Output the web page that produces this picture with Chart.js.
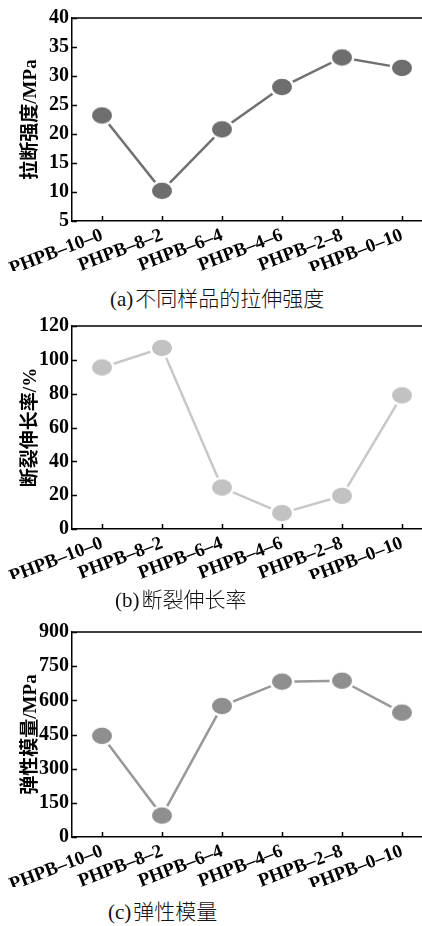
<!DOCTYPE html>
<html lang="zh">
<head>
    <meta charset="UTF-8">
    <title>PHPB 力学性能</title>
    <script src="https://cdn.jsdelivr.net/npm/chart.js"></script>
    <style>
        html, body { margin: 0; padding: 0; background: #fff; width: 422px; height: 926px; overflow: hidden; }
        .panel { position: absolute; left: 0; width: 440px; height: 280px; }
        .caption { position: absolute; font-size: 21px; line-height: 24px; color: #111; white-space: nowrap;
                   font-family: 'Liberation Serif', 'Noto Sans CJK SC', serif; font-weight: normal; }
        .caption span { font-family: 'Noto Sans CJK SC', sans-serif; font-weight: 300; margin-left: 2px; }
    </style>
</head>
<body>

<div class="panel" style="top:0px"><canvas id="chartA" width="440" height="280"></canvas></div>
<div class="caption" style="left:110px; top:285px">(a)<span>不同样品的拉伸强度</span></div>

<div class="panel" style="top:308px"><canvas id="chartB" width="440" height="280"></canvas></div>
<div class="caption" style="left:115px; top:586px">(b)<span>断裂伸长率</span></div>

<div class="panel" style="top:614px"><canvas id="chartC" width="440" height="280"></canvas></div>
<div class="caption" style="left:108px; top:898px">(c)<span>弹性模量</span></div>

<script>
    // sample names
    const categories = ['PHPB–10–0', 'PHPB–8–2', 'PHPB–6–4', 'PHPB–4–6', 'PHPB–2–8', 'PHPB–0–10'];

    // (a) tensile strength, MPa
    const tensileStrength = [23.2, 10.2, 20.8, 28.1, 33.2, 31.4];
    const tensileTicks = { min: 5, max: 40, step: 5 };

    // (b) elongation at break, %
    const elongation = [95.5, 107, 24.5, 9.4, 19.6, 79];
    const elongationTicks = { min: 0, max: 120, step: 20 };

    // (c) elastic modulus, MPa
    const modulus = [444, 94, 575, 682, 686, 546];
    const modulusTicks = { min: 0, max: 900, step: 150 };

    const serifBold = "'Liberation Serif', 'Noto Sans CJK SC', serif";

    // oval marker with a white rim, so the line stops short of it
    function ovalMarker(fill) {
        const c = document.createElement('canvas');
        c.width = 26; c.height = 22;
        const g = c.getContext('2d');
        g.fillStyle = '#fff';
        g.beginPath(); g.ellipse(13, 11, 12.5, 10.5, 0, 0, Math.PI * 2); g.fill();
        g.fillStyle = fill;
        g.beginPath(); g.ellipse(13, 11, 10, 8.2, 0, 0, Math.PI * 2); g.fill();
        return c;
    }

    // top frame line and inward tick marks
    const frame = {
        id: 'frame',
        afterDraw(chart) {
            const { ctx, chartArea: a, scales: { x, y } } = chart;
            ctx.save();
            ctx.strokeStyle = '#000';
            ctx.lineWidth = 1.5;
            ctx.beginPath();
            ctx.moveTo(a.left, a.top);
            ctx.lineTo(a.right, a.top);
            x.ticks.forEach((t, i) => {
                const px = Math.round(x.getPixelForTick(i)) + 0.5;
                ctx.moveTo(px, a.bottom);
                ctx.lineTo(px, a.bottom - 5);
            });
            y.ticks.forEach((t, i) => {
                const py = Math.round(y.getPixelForTick(i)) + 0.5;
                ctx.moveTo(a.left, py);
                ctx.lineTo(a.left + 5, py);
            });
            ctx.stroke();
            ctx.restore();
        }
    };

    function makeChart(id, values, range, title, pointColor, lineColor, padBottom) {
        new Chart(document.getElementById(id), {
            type: 'line',
            data: {
                labels: categories,
                datasets: [{
                    data: values,
                    borderColor: lineColor,
                    borderWidth: 2.5,
                    pointStyle: ovalMarker(pointColor),
                    fill: false,
                    tension: 0
                }]
            },
            options: {
                responsive: false,
                animation: false,
                layout: { padding: { top: 18, left: 0, right: 8, bottom: padBottom } },
                plugins: { legend: { display: false }, tooltip: { enabled: false } },
                scales: {
                    x: {
                        offset: true,
                        grid: { display: false, drawTicks: false, tickLength: 0 },
                        border: { display: true, color: '#000', width: 1.5 },
                        ticks: {
                            color: '#000', minRotation: 21, maxRotation: 21, padding: 3, autoSkip: false,
                            font: { family: serifBold, size: 19, weight: 'bold' }
                        },
                        afterFit: s => { s.height = 50; }
                    },
                    y: {
                        min: range.min,
                        max: range.max,
                        grid: { display: false, drawTicks: false, tickLength: 0 },
                        border: { display: true, color: '#000', width: 1.5 },
                        ticks: {
                            stepSize: range.step, color: '#000', padding: 3,
                            font: { family: serifBold, size: 20, weight: 'bold' }
                        },
                        title: {
                            display: true, text: title, color: '#000',
                            padding: { top: 20, bottom: 0 },
                            font: { family: serifBold, size: 19, weight: 'bold' }
                        },
                        afterFit: s => { s.width = 72; }
                    }
                }
            },
            plugins: [frame]
        });
    }

    makeChart('chartA', tensileStrength, tensileTicks, '拉断强度/MPa', '#6e6e6e', '#707070', 9);
    makeChart('chartB', elongation, elongationTicks, '断裂伸长率/%', '#c2c2c2', '#c8c8c8', 9);
    makeChart('chartC', modulus, modulusTicks, '弹性模量/MPa', '#8f8f8f', '#999999', 7);
</script>

</body>
</html>
